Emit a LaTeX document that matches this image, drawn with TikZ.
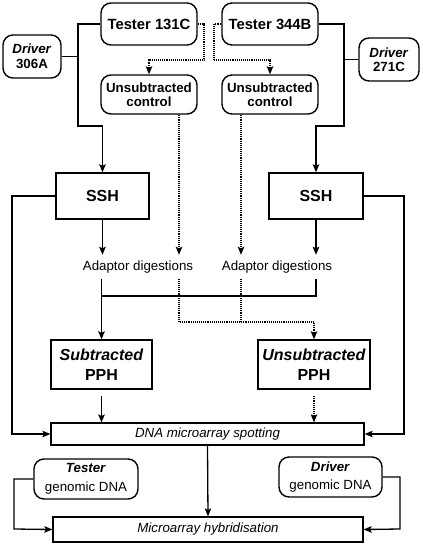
\documentclass[tikz,border=0pt]{standalone}
\usepackage{fontspec}
\setmainfont{Liberation Sans}
\usetikzlibrary{arrows.meta,calc}
\begin{document}
\begin{tikzpicture}[x=1pt,y=-1pt,
  every node/.style={inner sep=0pt,align=center},
  rbox/.style={draw,line width=1.4pt,rounded corners=10pt,font=\fontsize{13.3}{14.5}\selectfont\bfseries},
  tbox/.style={rbox,font=\fontsize{14.8}{16}\selectfont\bfseries},
  sbox/.style={draw,line width=1.4pt,font=\fontsize{16}{20}\selectfont\bfseries},
  wbox/.style={draw,line width=1.2pt,font=\fontsize{13.3}{14.5}\selectfont\itshape},
  gbox/.style={draw,line width=1.4pt,rounded corners=10pt,font=\fontsize{13.3}{18.5}\selectfont},
  txt/.style={font=\fontsize{13.3}{14.5}\selectfont,minimum height=24pt,minimum width=110pt},
  ln/.style={line width=1.3pt},
  arr/.style={ln,-{Stealth[length=8pt,width=6.5pt,inset=1.5pt]}},
  dln/.style={line width=1.2pt,dash pattern=on 1pt off 0.9pt},
  darr/.style={dln,-{Stealth[length=8pt,width=6.5pt,inset=1.5pt]}}
]
\useasboundingbox (0,0) rectangle (423,547);
% nodes
\node[tbox,minimum width=96pt,minimum height=42pt] (t1) at (149,24) {Tester 131C};
\node[tbox,minimum width=96pt,minimum height=42pt] (t2) at (270,24) {Tester 344B};
\node[rbox,minimum width=58pt,minimum height=43pt] (d1) at (32,56.5) {\textit{Driver}\\306A};
\node[rbox,minimum width=60pt,minimum height=43pt] (d2) at (389,59.5) {\textit{Driver}\\271C};
\node[rbox,minimum width=96pt,minimum height=39pt] (u1) at (149,94.5) {Unsubtracted\\control};
\node[rbox,minimum width=96pt,minimum height=39pt] (u2) at (270,94.5) {Unsubtracted\\control};
\node[sbox,minimum width=93pt,minimum height=46pt] (s1) at (102.5,196) {SSH};
\node[sbox,minimum width=94pt,minimum height=46pt] (s2) at (316,196) {SSH};
\node[txt] (a1) at (138,267) {Adaptor digestions};
\node[txt] (a2) at (277,267) {Adaptor digestions};
\node[sbox,minimum width=101pt,minimum height=49pt] (p1) at (101.5,364.5) {\textit{Subtracted}\\PPH};
\node[sbox,minimum width=112pt,minimum height=49pt] (p2) at (314,364.5) {\textit{Unsubtracted}\\PPH};
\node[wbox,minimum width=313pt,minimum height=22pt] (dna) at (207.5,434) {DNA microarray spotting};
\node[gbox,minimum width=104pt,minimum height=40pt] (tg) at (86,479) {\textbf{\textit{Tester}}\\genomic DNA};
\node[gbox,minimum width=103pt,minimum height=40pt] (dg) at (330.5,477) {\textbf{\textit{Driver}}\\genomic DNA};
\node[wbox,minimum width=310pt,minimum height=25pt] (hy) at (208,529.5) {Microarray hybridisation};
% coordinates
\coordinate (j1) at (78,126);
\coordinate (j2) at (344,126);
\coordinate (k1) at (204,60);
\coordinate (k2) at (214,60);
\coordinate (c1) at (179,0);
\coordinate (c2) at (241,0);
\coordinate (m1) at (101.5,296);
\coordinate (n1) at (179,322);
\coordinate (o1) at (12,434);
\coordinate (o2) at (404,434);
\coordinate (o3) at (14,529);
\coordinate (o4) at (400,529);
% solid connectors top
\draw[arr] (t1.west) -| (j1) -| (s1.north);
\draw[ln] (d1.east) -- (d1.east -| j1);
\draw[arr] (t2.east) -| (j2) -| (s2.north);
\draw[ln] (d2.west) -- (d2.west -| j2);
% dotted top
\draw[darr] (t1.east) -| (k1) -| (u1.north);
\draw[darr] (t2.west) -| (k2) -| (u2.north);
\draw[darr] (u1.south -| c1) -- (c1 |- a1.north);
\draw[darr] (u2.south -| c2) -- (c2 |- a2.north);
% SSH to adaptor
\draw[arr] (s1.south) -- (s1.south |- a1.north);
\draw[arr] (s2.south) -- (s2.south |- a2.north);
% below adaptor
\draw[arr] (p1.north |- a1.south) -- (p1.north);
\draw[ln] (s2.south |- a2.south) |- (m1);
\draw[darr] (c1 |- a1.south) -- (n1) -| (p2.north);
\draw[dln] (c2 |- a2.south) -- (c2 |- n1);
% PPH to spotting
\draw[arr,shorten <=6pt] (p1.south) -- (p1.south |- dna.north);
\draw[darr,shorten <=6pt] (p2.south) -- (p2.south |- dna.north);
% side loops
\draw[arr] (s1.west) -| (o1) -- (dna.west);
\draw[arr] (s2.east) -| (o2) -- (dna.east);
\draw[arr] (dna.south) -- (hy.north);
\draw[arr] (tg.west) -| (o3) -- (hy.west);
\draw[arr] (dg.east) -| (o4) -- (hy.east);
\end{tikzpicture}
\end{document}
